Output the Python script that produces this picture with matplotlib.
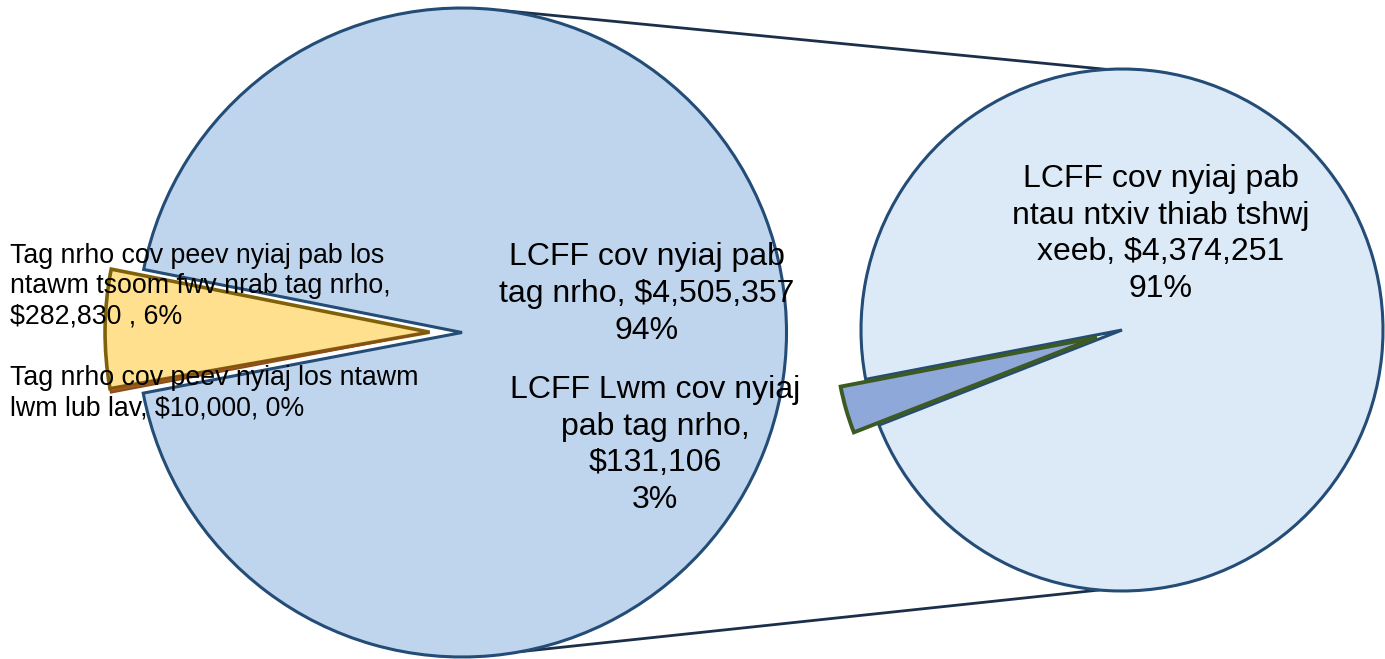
import matplotlib
matplotlib.use("Agg")
import matplotlib.pyplot as plt
import numpy as np

plt.rcParams['font.family'] = ['Liberation Sans', 'DejaVu Sans']

# ---- data ----
main_names = ["Tag nrho cov peev nyiaj pab los ntawm tsoom fwv nrab tag nrho",
              "Tag nrho cov peev nyiaj los ntawm lwm lub lav",
              "LCFF cov nyiaj pab tag nrho"]
main_values = [282830, 10000, 4505357]
main_pcts = ["6%", "0%", "94%"]

sub_names = ["LCFF Lwm cov nyiaj pab tag nrho",
             "LCFF cov nyiaj pab ntau ntxiv thiab tshwj xeeb"]
sub_values = [131106, 4374251]
sub_pcts = ["3%", "91%"]

W, H = 1385, 659
fig = plt.figure(figsize=(W / 100, H / 100), dpi=100)
ax = fig.add_axes([0, 0, 1, 1])

def fy(py):
    return H - py

# geometry
L_c = (462, fy(332.5)); L_r = 324.5
R_c = (1122, fy(330)); R_r = 261

edge_blue = "#234C77"

# connector lines (behind)
def pt(c, r, ang):
    a = np.deg2rad(ang)
    return c[0] + r * np.cos(a), c[1] + r * np.sin(a)

for la, ra in [(83.3, 93.3), (-79.5, -95.0)]:
    x1, y1 = pt(L_c, L_r, la)
    x2, y2 = pt(R_c, R_r, ra)
    ax.plot([x1, x2], [y1, y2], color="#1B2F4A", lw=2.0, zorder=0,
            solid_capstyle='round')

# left (main) pie
wl, _ = ax.pie(main_values, radius=L_r, center=L_c, startangle=168.8,
               explode=[0.1 * L_r, 0.1 * L_r, 0.0],
               colors=["#FFE08F", "#9A5A1C", "#BFD5ED"],
               wedgeprops=dict(linewidth=2.2, edgecolor=edge_blue),
               frame=True)
wl[0].set_edgecolor("#7F6208"); wl[0].set_linewidth(2.6)
wl[1].set_edgecolor("#8A4E16"); wl[1].set_linewidth(1.2)
wl[1].set_center(wl[0].center)   # brown strip sits snug under the yellow slice
wl[1].set_zorder(4)
wl[0].set_zorder(3)
wl[2].set_zorder(1)

# right (sub) pie
wr, _ = ax.pie(sub_values, radius=R_r, center=R_c, startangle=190.9,
               explode=[0.1 * R_r, 0.0],
               colors=["#8EA8DA", "#DCE9F6"],
               wedgeprops=dict(linewidth=2.2, edgecolor=edge_blue),
               frame=True)
wr[0].set_edgecolor("#3C5A22"); wr[0].set_linewidth(2.8)
wr[0].set_zorder(3)
wr[1].set_zorder(1)

def money(v):
    return f"${v:,}"

fs_big = 23
fs_small = 19.3

ax.text(10, fy(286),
        "Tag nrho cov peev nyiaj pab los\nntawm tsoom fwv nrab tag nrho,\n"
        f"{money(main_values[0])} , {main_pcts[0]}",
        ha='left', va='center', fontsize=fs_small, parse_math=False, zorder=5,
        linespacing=1.22)
ax.text(10, fy(393),
        "Tag nrho cov peev nyiaj los ntawm\n"
        f"lwm lub lav, {money(main_values[1])}, {main_pcts[1]}",
        ha='left', va='center', fontsize=fs_small, parse_math=False, zorder=5,
        linespacing=1.22)
ax.text(647, fy(294),
        f"LCFF cov nyiaj pab\ntag nrho, {money(main_values[2])}\n{main_pcts[2]}",
        ha='center', va='center', fontsize=fs_big, parse_math=False, zorder=5,
        linespacing=1.3)
ax.text(655, fy(445),
        f"LCFF Lwm cov nyiaj\npab tag nrho,\n{money(sub_values[0])}\n{sub_pcts[0]}",
        ha='center', va='center', fontsize=fs_big, parse_math=False, zorder=5,
        linespacing=1.3)
ax.text(1161, fy(234),
        f"LCFF cov nyiaj pab\nntau ntxiv thiab tshwj\nxeeb, {money(sub_values[1])}\n{sub_pcts[1]}",
        ha='center', va='center', fontsize=fs_big, parse_math=False, zorder=5,
        linespacing=1.3)

ax.set_xlim(0, W)
ax.set_ylim(0, H)
ax.set_aspect('equal')
ax.axis('off')

fig.savefig("out.png", dpi=100, facecolor='white')
